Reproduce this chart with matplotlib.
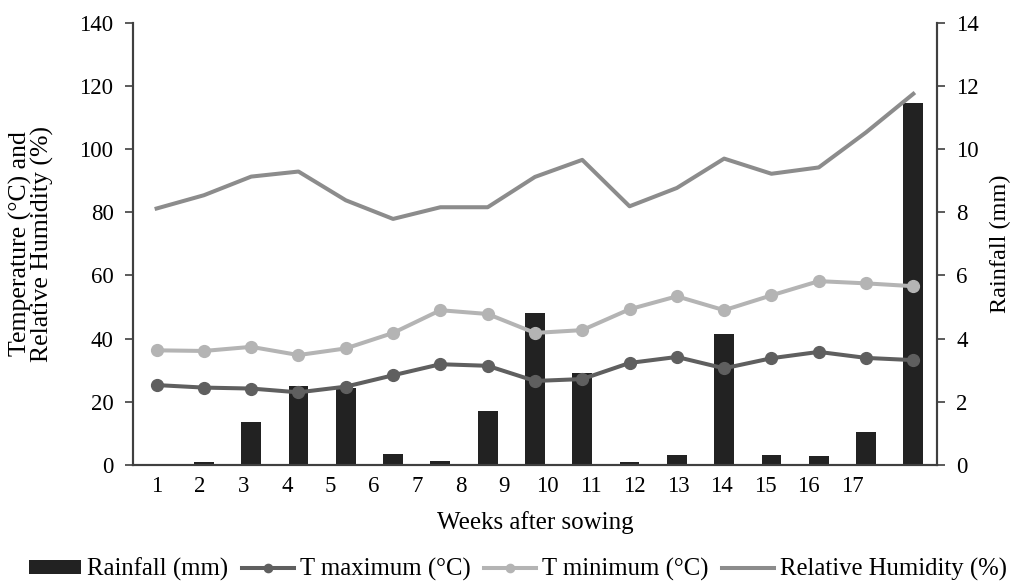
import matplotlib
matplotlib.use("Agg")
import matplotlib.pyplot as plt
import numpy as np

plt.rcParams['font.family'] = ['Liberation Serif', 'DejaVu Serif']
plt.rcParams['font.size'] = 16.5

# weekly values
weeks = list(range(1, 18))
rainfall = [0.03, 0.10, 1.36, 2.50, 2.45, 0.35, 0.13, 1.71, 4.80, 2.90, 0.10, 0.32, 4.14, 0.32, 0.29, 1.04, 11.47]
t_max = [25.3, 24.5, 24.2, 23.0, 24.8, 28.4, 31.9, 31.4, 26.6, 27.2, 32.3, 34.2, 30.6, 33.8, 35.8, 33.9, 33.2]
t_min = [36.3, 36.1, 37.4, 34.8, 36.9, 41.8, 49.0, 47.8, 41.8, 42.7, 49.3, 53.4, 49.0, 53.7, 58.2, 57.5, 56.6]
rh = [81.2, 85.4, 91.3, 92.9, 83.8, 77.9, 81.6, 81.6, 91.2, 96.6, 81.9, 87.7, 97.0, 92.2, 94.2, 105.3, 117.5]
tick_labels = [str(w) for w in weeks]

x = np.arange(len(weeks))
# tick labels in the original are spaced a bit tighter than the data
tick_pos = np.arange(len(tick_labels)) * 0.919

fig = plt.figure(figsize=(10.22, 5.84), dpi=100)
ax = fig.add_axes([0.1301, 0.2038, 0.7867, 0.7572])
ax2 = ax.twinx()

bars = ax2.bar(x, rainfall, width=0.42, color='#222222', zorder=1, label='Rainfall (mm)')
ax.set_zorder(ax2.get_zorder() + 1)
ax.patch.set_visible(False)

l1, = ax.plot(x, t_max, color='#5f5f5f', lw=2.9, marker='o', ms=8.5, label='T maximum (°C)')
l2, = ax.plot(x, t_min, color='#b4b4b4', lw=2.9, marker='o', ms=8.5, label='T minimum (°C)')
l3, = ax.plot(x, rh, color='#8c8c8c', lw=2.9, label='Relative Humidity (%)')

ax.set_xlim(-0.5, 16.5)
ax.set_ylim(0, 140)
ax.set_yticks(np.arange(0, 141, 20))
ax2.set_ylim(0, 14)
ax2.set_yticks(np.arange(0, 15, 2))

ax.set_xticks(tick_pos)
ax.set_xticklabels(tick_labels)
ax.tick_params(axis='x', length=0, pad=8)
ax.tick_params(axis='y', length=6, width=1.2, color='#404040', pad=8)
ax2.tick_params(axis='y', length=6, width=1.2, color='#404040', pad=8)

for a in (ax, ax2):
    a.spines['top'].set_visible(False)
    for s in ('left', 'right', 'bottom'):
        a.spines[s].set_color('#404040')
        a.spines[s].set_linewidth(1.5)

ax.set_xlabel('Weeks after sowing', fontsize=18, labelpad=10)
ax.set_ylabel('Temperature (°C) and\nRelative Humidity (%)', fontsize=18.5, linespacing=0.95, labelpad=18)
ax2.set_ylabel('Rainfall (mm)', fontsize=17.5, labelpad=8)

fig.legend(handles=[bars, l1, l2, l3], loc='lower center', bbox_to_anchor=(0.507, -0.033),
           ncol=4, frameon=False, fontsize=17.8, handlelength=2.1, handleheight=0.5,
           columnspacing=0.55, handletextpad=0.25, markerscale=0.7)

fig.savefig('out.png', dpi=100)
